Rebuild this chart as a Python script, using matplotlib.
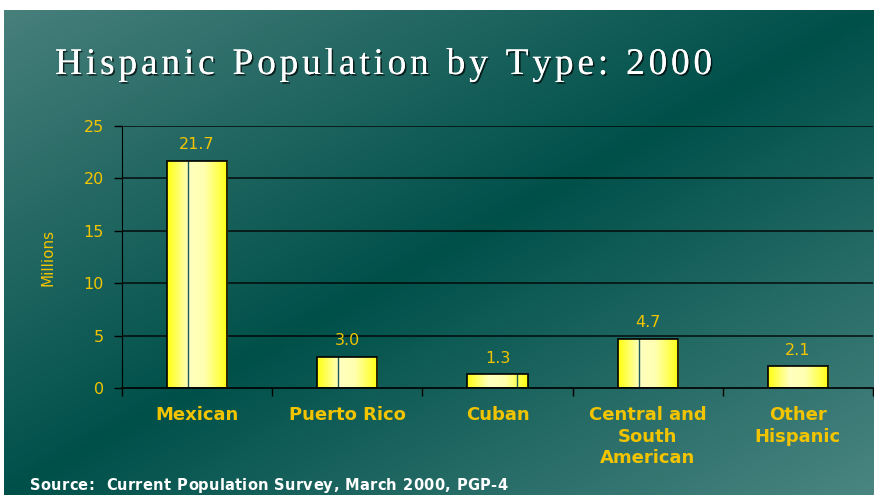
import numpy as np
import matplotlib
matplotlib.use('Agg')
import matplotlib.pyplot as plt
import matplotlib.patheffects as pe
from matplotlib.colors import LinearSegmentedColormap

# Data
categories = ['Mexican', 'Puerto Rico', 'Cuban', 'Central and\nSouth\nAmerican', 'Other\nHispanic']
values = [21.7, 3.0, 1.3, 4.7, 2.1]
value_labels = ['21.7', '3.0', '1.3', '4.7', '2.1']
y_ticks = [0, 5, 10, 15, 20, 25]

title = 'Hispanic Population by Type: 2000'
source = 'Source:  Current Population Survey, March 2000, PGP-4'

# Style
gold = '#f2c400'
divider_pos = [0.35, 0.35, 0.82, 0.35, None]

W, H = 874, 495
fig = plt.figure(figsize=(W / 100, H / 100), dpi=100)
fig.patch.set_facecolor('white')
renderer = fig.canvas.get_renderer()


def spaced_text(s, x0, x1, y, **kw):
    # draw s letter by letter so that it spans x0..x1 (pixels), baseline y
    widths = []
    for ch in s:
        tt = fig.text(0, 0, ch if ch != ' ' else 'n', **kw)
        widths.append(tt.get_window_extent(renderer).width * (0.55 if ch == ' ' else 1))
        tt.remove()
    gap = (x1 - x0 - sum(widths)) / (len(s) - 1)
    cur = x0
    for ch, w in zip(s, widths):
        if ch != ' ':
            fig.text(cur / W, 1 - y / H, ch, va='baseline', ha='left', **kw)
        cur += w + gap


# Background gradient panel
bg = fig.add_axes([4 / W, 0, 1 - 4 / W, 1 - 10 / H])
bg.axis('off')
yy, xx = np.mgrid[0:1:300j, 0:1:500j]
t = (xx + yy) / 2
bg_cmap = LinearSegmentedColormap.from_list('bg', ['#477f7b', '#00504a', '#4a8581'])
bg.imshow(t, cmap=bg_cmap, aspect='auto', extent=(0, 1, 1, 0), vmin=0, vmax=1)
bg.set_xlim(0, 1)
bg.set_ylim(1, 0)

# Chart axes
ax = fig.add_axes([122 / W, 1 - 388 / H, (873 - 122) / W, (388 - 126) / H])
ax.patch.set_alpha(0)
x = np.arange(len(categories))
bars = ax.bar(x, values, width=0.4, facecolor='none', edgecolor='black', linewidth=1.2, zorder=3)

bar_cmap = LinearSegmentedColormap.from_list(
    'bar', [(0, '#ffff10'), (0.36, '#ffffc0'), (0.62, '#ffffb0'), (1, '#ffff10')])
grad = np.linspace(0, 1, 200).reshape(1, -1)
for b, d in zip(bars, divider_pos):
    x0, w, h = b.get_x(), b.get_width(), b.get_height()
    im = ax.imshow(grad, cmap=bar_cmap, aspect='auto', extent=(x0, x0 + w, 0, h), zorder=2)
    im.set_clip_path(b)
    if d is not None:
        ax.plot([x0 + d * w, x0 + d * w], [0, h], color='#1f5a58', lw=1, zorder=2.5)

for b, lab in zip(bars, value_labels):
    ax.annotate(lab, (b.get_x() + b.get_width() / 2, b.get_height()), xytext=(0, 6),
                textcoords='offset points', ha='center', va='bottom', color=gold, fontsize=11.5,
                family='DejaVu Sans')

ax.set_xlim(-0.5, len(categories) - 0.5)
ax.set_ylim(0, 25)
ax.set_yticks(y_ticks)
ax.set_yticklabels([str(v) for v in y_ticks], color=gold, fontsize=11.5, family='DejaVu Sans')
ax.tick_params(axis='y', length=6, width=1, color='black', pad=7)
ax.set_xticks(x)
ax.set_xticklabels(categories, color=gold, fontsize=13, fontweight='bold', family='DejaVu Sans',
                   linespacing=1.25)
ax.set_xticks(np.arange(-0.5, len(categories)), minor=True)
ax.tick_params(axis='x', which='major', length=0, pad=13)
ax.tick_params(axis='x', which='minor', length=6, width=1, color='black')
for v in y_ticks[1:]:
    ax.axhline(v, color='black', lw=1.3, alpha=0.75, zorder=1)
for s in ['top', 'right']:
    ax.spines[s].set_visible(False)
ax.spines['left'].set_color('black')
ax.spines['bottom'].set_color('black')
ax.spines['bottom'].set_linewidth(1.2)
ax.set_ylabel('Millions', color=gold, fontsize=11, family='DejaVu Sans', labelpad=20)

# Title with shadow, wide letter spacing
shadow = [pe.withSimplePatchShadow(offset=(1.2, -1.2), shadow_rgbFace='black', alpha=0.7), pe.Normal()]
spaced_text(title, 55, 712, 74, fontsize=27, family='Liberation Serif', color='white', path_effects=shadow)

spaced_text(source, 30, 507, 490, fontsize=10.5, fontweight='bold', family='DejaVu Sans', color='white')

fig.savefig('out.png', dpi=100)
